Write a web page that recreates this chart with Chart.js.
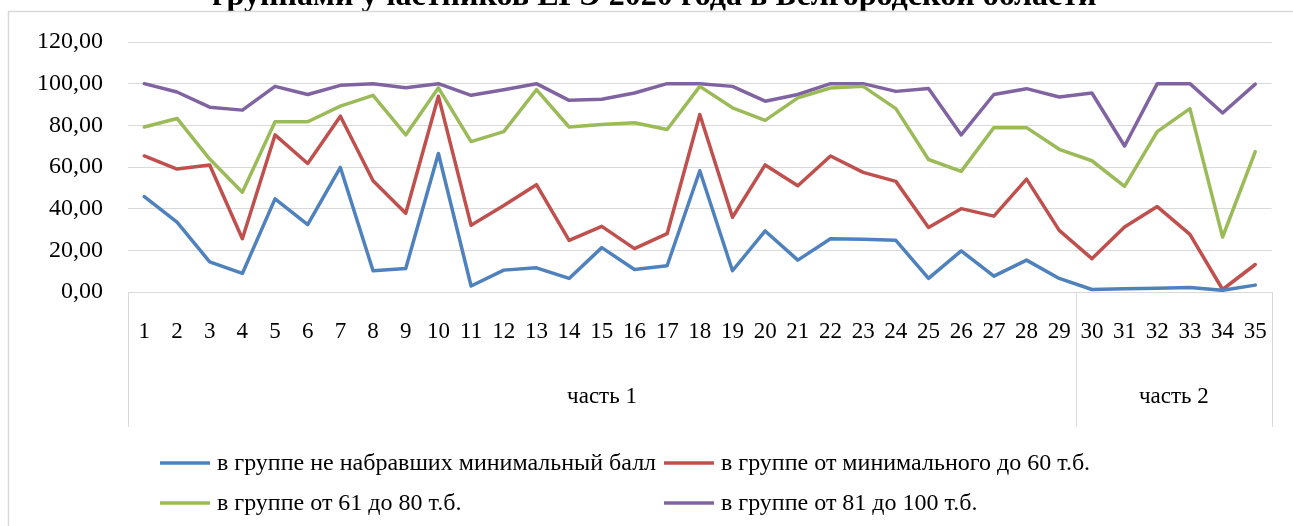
<!DOCTYPE html>
<html lang="ru">
<head>
<meta charset="utf-8">
<title>ЕГЭ 2020, Белгородская область</title>
<script src="https://cdn.jsdelivr.net/npm/chart.js@4/dist/chart.umd.min.js"></script>
<style>
  html, body { margin: 0; padding: 0; background: #fff; }
  #wrap { position: relative; width: 1293px; height: 526px; overflow: hidden; }
</style>
</head>
<body>
<div id="wrap"><canvas id="chart" width="1293" height="526"></canvas></div>
<script>
  // data
  var titleText = 'группами участников ЕГЭ 2020 года в Белгородской области';

  var categories = ['1', '2', '3', '4', '5', '6', '7', '8', '9', '10', '11', '12', '13', '14', '15', '16', '17', '18',
    '19', '20', '21', '22', '23', '24', '25', '26', '27', '28', '29', '30', '31', '32', '33', '34', '35'];

  var groupLabels = ['часть 1', 'часть 2'];
  var groupSizes = [29, 6];

  var seriesNames = [
    'в группе не набравших минимальный балл',
    'в группе от минимального до 60 т.б.',
    'в группе от 61 до 80 т.б.',
    'в группе от 81 до 100 т.б.'
  ];

  var belowMin = [45.8, 33.5, 14.5, 8.9, 44.7, 32.3, 59.8, 10.2, 11.3, 66.5,
    2.9, 10.5, 11.6, 6.5, 21.3, 10.8, 12.6, 58.2, 10.2, 29.3,
    15.3, 25.6, 25.3, 24.8, 6.5, 19.7, 7.6, 15.3, 6.5, 1.2,
    1.6, 1.8, 2.2, 0.8, 3.3];

  var minTo60 = [65.3, 59.0, 61.0, 25.6, 75.4, 61.7, 84.4, 53.4, 37.8, 94.0,
    32.0, 41.5, 51.5, 24.8, 31.5, 20.8, 28.0, 85.2, 35.9, 61.0,
    51.0, 65.3, 57.4, 53.1, 31.0, 40.0, 36.4, 54.2, 29.6, 16.0,
    31.2, 41.0, 27.7, 1.2, 13.2];

  var from61to80 = [79.2, 83.3, 63.8, 47.9, 81.7, 81.7, 89.2, 94.4, 75.4, 98.0,
    72.2, 77.0, 97.1, 79.2, 80.4, 81.2, 78.0, 98.7, 88.4, 82.4,
    93.2, 97.9, 98.7, 88.0, 63.6, 57.9, 78.9, 78.9, 68.5, 63.0,
    50.7, 77.0, 88.0, 26.4, 67.4];

  var from81to100 = [100, 96.0, 88.7, 87.3, 98.7, 94.8, 99.2, 100, 98.0, 100,
    94.4, 97.1, 100, 92.0, 92.5, 95.5, 100, 100, 98.7, 91.6,
    94.8, 100, 100, 96.3, 97.7, 75.4, 94.8, 97.6, 93.6, 95.5,
    70.1, 100, 100, 85.9, 99.8];

  var yMin = 0;
  var yMax = 120;
  var yStep = 20;

  var FONT = '"Liberation Serif", "Times New Roman", serif';
  var GRID = '#d9d9d9';

  function formatTick(value) {
    return Number(value).toFixed(2).replace('.', ',');
  }

  function lineSet(label, data, color) {
    return {
      label: label,
      data: data,
      borderColor: color,
      backgroundColor: color,
      borderWidth: 3.5,
      borderJoinStyle: 'round',
      borderCapStyle: 'round',
      tension: 0,
      pointRadius: 0,
      pointHoverRadius: 0,
      fill: false
    };
  }

  // frame + clipped title line at the very top
  var framePlugin = {
    id: 'frame',
    beforeDraw: function (chart) {
      var ctx = chart.ctx;
      ctx.save();
      ctx.font = 'bold 100px ' + FONT;
      var w100 = ctx.measureText(titleText).width;
      var size = 100 * 885 / w100;
      ctx.font = 'bold ' + size.toFixed(1) + 'px ' + FONT;
      ctx.fillStyle = '#000';
      ctx.textAlign = 'left';
      ctx.textBaseline = 'alphabetic';
      ctx.fillText(titleText, 212, 5);
      ctx.strokeStyle = GRID;
      ctx.lineWidth = 1.5;
      ctx.strokeRect(8.5, 11.5, chart.width + 20, chart.height + 20);
      ctx.restore();
    }
  };

  // box under the x axis with the two part labels
  var groupPlugin = {
    id: 'groups',
    afterDraw: function (chart) {
      var x = chart.scales.x;
      var ctx = chart.ctx;
      var top = x.top;
      var bottom = 427;
      var edges = [x.left];
      var idx = 0;
      groupSizes.forEach(function (n, i) {
        idx += n;
        if (i < groupSizes.length - 1) {
          edges.push(Math.round((x.getPixelForValue(idx - 1) + x.getPixelForValue(idx)) / 2));
        }
      });
      edges.push(x.right);

      ctx.save();
      ctx.strokeStyle = GRID;
      ctx.lineWidth = 1;
      edges.forEach(function (px) {
        ctx.beginPath();
        ctx.moveTo(Math.round(px) + 0.5, top);
        ctx.lineTo(Math.round(px) + 0.5, bottom);
        ctx.stroke();
      });
      ctx.fillStyle = '#000';
      ctx.font = '23px ' + FONT;
      ctx.textAlign = 'center';
      ctx.textBaseline = 'middle';
      groupLabels.forEach(function (label, i) {
        ctx.fillText(label, (edges[i] + edges[i + 1]) / 2, 397);
      });
      ctx.restore();
    }
  };

  // two-column legend under the chart
  var legendPlugin = {
    id: 'gridLegend',
    afterDraw: function (chart) {
      var ctx = chart.ctx;
      var cols = [160, 664];
      var rows = [463, 503];
      ctx.save();
      ctx.font = '24px ' + FONT;
      ctx.textBaseline = 'middle';
      ctx.textAlign = 'left';
      chart.data.datasets.forEach(function (ds, i) {
        var cx = cols[i % 2];
        var cy = rows[Math.floor(i / 2)];
        ctx.strokeStyle = ds.borderColor;
        ctx.lineWidth = 3.5;
        ctx.lineCap = 'butt';
        ctx.beginPath();
        ctx.moveTo(cx, cy);
        ctx.lineTo(cx + 50, cy);
        ctx.stroke();
        ctx.fillStyle = '#000';
        ctx.fillText(ds.label, cx + 57, cy + 1);
      });
      ctx.restore();
    }
  };

  var ctx = document.getElementById('chart').getContext('2d');
  new Chart(ctx, {
    type: 'line',
    data: {
      labels: categories,
      datasets: [
        lineSet(seriesNames[0], belowMin, '#4f81bd'),
        lineSet(seriesNames[1], minTo60, '#c0504d'),
        lineSet(seriesNames[2], from61to80, '#9bbb59'),
        lineSet(seriesNames[3], from81to100, '#8064a2')
      ]
    },
    options: {
      responsive: false,
      animation: false,
      devicePixelRatio: 1,
      layout: { padding: { top: 42, right: 16, left: 0, bottom: 0 } },
      plugins: {
        legend: { display: false },
        title: { display: false },
        tooltip: { enabled: false }
      },
      scales: {
        x: {
          offset: true,
          grid: { display: false, drawTicks: false },
          border: { display: true, color: GRID, width: 1 },
          ticks: {
            autoSkip: false,
            maxRotation: 0,
            padding: 26,
            color: '#000',
            font: { family: FONT, size: 23 }
          },
          afterFit: function (scale) { scale.height = 234; }
        },
        y: {
          min: yMin,
          max: yMax,
          grid: { color: GRID, lineWidth: 1, drawTicks: false },
          border: { display: false },
          ticks: {
            stepSize: yStep,
            padding: 25,
            color: '#000',
            font: { family: FONT, size: 24 },
            callback: formatTick
          },
          afterFit: function (scale) { scale.width = 128; }
        }
      }
    },
    plugins: [framePlugin, groupPlugin, legendPlugin]
  });
</script>
</body>
</html>
